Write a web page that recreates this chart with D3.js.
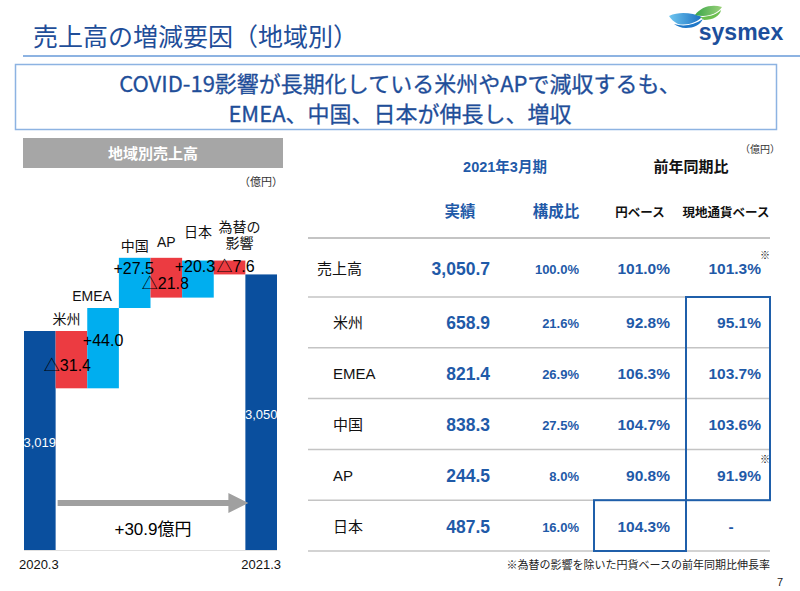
<!DOCTYPE html>
<html>
<head>
<meta charset="utf-8">
<script src="https://cdn.jsdelivr.net/npm/d3@7/dist/d3.min.js"></script>
<style>
  html, body { margin: 0; padding: 0; background: #fff; }
  svg { display: block; }
</style>
</head>
<body>
<svg id="chart" width="800" height="591"></svg>
<script>
// ---------------- DATA ----------------
const steps = ["2020.3", "米州", "EMEA", "中国", "AP", "日本", "為替の影響", "2021.3"];
const stepLabels = [["2020.3"], ["米州"], ["EMEA"], ["中国"], ["AP"], ["日本"], ["為替の", "影響"], ["2021.3"]];
const startTotal = 3019;
const endTotal = 3050;
const deltas = [-31.4, 44.0, 27.5, -21.8, 20.3, -7.6];
const deltaLabels = ["△31.4", "+44.0", "+27.5", "△21.8", "+20.3", "△7.6"];
const totalLabels = ["3,019", "3,050"];
const changeLabel = "+30.9億円";

const regions = ["売上高", "米州", "EMEA", "中国", "AP", "日本"];
const actual = ["3,050.7", "658.9", "821.4", "838.3", "244.5", "487.5"];
const share = ["100.0%", "21.6%", "26.9%", "27.5%", "8.0%", "16.0%"];
const yenBase = ["101.0%", "92.8%", "106.3%", "104.7%", "90.8%", "104.3%"];
const localBase = ["101.3%", "95.1%", "103.7%", "103.6%", "91.9%", "-"];
const localNote = [true, false, false, false, true, false];

// ---------------- LAYOUT / STYLE ----------------
const LATIN = "'Liberation Sans', Arial, 'Noto Sans CJK JP', sans-serif";
const CJK = "'Noto Sans CJK JP', 'Liberation Sans', sans-serif";
const C = {
  title: "#1f4e99", rule: "#8db3e2", dark: "#0a4f9e", light: "#00aeef", red: "#ec3b41",
  blueText: "#1f5aa8", grey: "#a6a6a6", line: "#c4c4c4"
};
// label nudges (px), index by delta step
const labelDx = [-4, 0, -1, -1, -3, 6];
const labelDy = [6, -8, -15, 6, -13, -1];
// category label nudges (px), index by step
const catDx = [0, -5, -11, 0, 0, 0, 10, 0];
const catDy = [0, 0, 0, 0, -4, -17, -6, 0];

const svg = d3.select("#chart");

// ---------- header ----------
svg.append("text").attr("x", 33).attr("y", 46)
  .attr("font-family", CJK).attr("font-size", 25).attr("fill", C.title)
  .text("売上高の増減要因（地域別）");
svg.append("rect").attr("x", 23).attr("y", 55).attr("width", 777).attr("height", 2).attr("fill", C.rule);

// logo
const defs = svg.append("defs");
const g1 = defs.append("linearGradient").attr("id", "lgBlue").attr("x1", 0).attr("x2", 1);
g1.append("stop").attr("offset", 0).attr("stop-color", "#6fc6f0");
g1.append("stop").attr("offset", 1).attr("stop-color", "#1a6fc0");
const g2 = defs.append("linearGradient").attr("id", "lgGreen").attr("x1", 0).attr("x2", 1);
g2.append("stop").attr("offset", 0).attr("stop-color", "#3aa64a");
g2.append("stop").attr("offset", 1).attr("stop-color", "#9cd27a");
const logo = svg.append("g");
logo.append("path").attr("d", "M669,16 C680,11 692,13 702,17 C697,22 688,26 678,24 C674,22 671,19 669,16Z").attr("fill", "url(#lgBlue)");
logo.append("path").attr("d", "M674,24 C684,27 694,25 703,19 C700,25 694,28 686,28 C681,28 677,26 674,24Z").attr("fill", "#1f78c8");
logo.append("path").attr("d", "M695,15 C701,7 711,4 722,7 C717,14 707,18 695,15Z").attr("fill", "url(#lgGreen)");
logo.append("path").attr("d", "M700,17 C708,17 716,15 721,10 C720,16 713,20 704,20Z").attr("fill", "#6cbf4f");
logo.append("text").attr("x", 741).attr("y", 40).attr("text-anchor", "middle")
  .attr("font-family", LATIN).attr("font-weight", "bold").attr("font-size", 23).attr("fill", "#1d4f9c")
  .text("sysmex");

// headline box
svg.append("rect").attr("x", 15.5).attr("y", 64.5).attr("width", 761).attr("height", 65)
  .attr("fill", "#fff").attr("stroke", C.rule).attr("stroke-width", 1.5);
const head = ["COVID-19影響が長期化している米州やAPで減収するも、", "EMEA、中国、日本が伸長し、増収"];
svg.selectAll("text.head").data(head).join("text").attr("class", "head")
  .attr("x", 400).attr("y", (d, i) => 92 + i * 30).attr("text-anchor", "middle")
  .attr("font-family", CJK).attr("font-size", 22).attr("fill", C.title)
  .attr("stroke", C.title).attr("stroke-width", 0.3)
  .text(d => d);

// ---------- waterfall ----------
svg.append("rect").attr("x", 23).attr("y", 138).attr("width", 260).attr("height", 30).attr("fill", C.grey);
svg.append("text").attr("x", 153).attr("y", 159).attr("text-anchor", "middle")
  .attr("font-family", CJK).attr("font-weight", "bold").attr("font-size", 15).attr("fill", "#fff")
  .text("地域別売上高");
svg.append("text").attr("x", 283).attr("y", 186).attr("text-anchor", "end")
  .attr("font-family", CJK).attr("font-size", 11).attr("fill", "#333").text("（億円）");

const x = d3.scaleBand().domain(steps).range([24, 277]).padding(0);
const y = d3.scaleLinear().domain([2899, 3019]).range([550, 331]);
const base = y.domain()[0];

// build bars
const bars = [];
bars.push({ step: steps[0], y0: base, y1: startTotal, color: C.dark, type: "total", label: totalLabels[0] });
let level = startTotal;
deltas.forEach((d, i) => {
  const next = level + d;
  bars.push({ step: steps[i + 1], y0: Math.min(level, next), y1: Math.max(level, next),
    color: d < 0 ? C.red : C.light, type: "delta", label: deltaLabels[i], idx: i });
  level = next;
});
bars.push({ step: steps[7], y0: base, y1: endTotal, color: C.dark, type: "total", label: totalLabels[1] });

svg.append("line").attr("x1", 24).attr("x2", 277).attr("y1", y(base) + 0.5).attr("y2", y(base) + 0.5)
  .attr("stroke", "#e0e0e0").attr("stroke-width", 1);

svg.selectAll("rect.bar").data(bars).join("rect").attr("class", "bar")
  .attr("x", d => x(d.step)).attr("width", x.bandwidth())
  .attr("y", d => y(d.y1)).attr("height", d => y(d.y0) - y(d.y1))
  .attr("fill", d => d.color);

// category labels above bars
stepLabels.forEach((lines, i) => {
  if (i === 0 || i === 7) return;
  const b = bars[i];
  const cx = x(steps[i]) + x.bandwidth() / 2 + catDx[i];
  const t = svg.append("text").attr("text-anchor", "middle")
    .attr("font-family", LATIN).attr("font-size", 14).attr("fill", "#111");
  lines.forEach((ln, k) => {
    t.append("tspan").attr("x", cx)
      .attr("y", y(b.y1) - 7 + catDy[i] - (lines.length - 1 - k) * 16).text(ln);
  });
});

// value labels
bars.filter(d => d.type === "delta").forEach(d => {
  const cx = x(d.step) + x.bandwidth() / 2 + labelDx[d.idx];
  const cy = (y(d.y0) + y(d.y1)) / 2 + labelDy[d.idx];
  svg.append("text").attr("x", cx).attr("y", cy).attr("dy", "0.35em").attr("text-anchor", "middle")
    .attr("font-family", LATIN).attr("font-size", 16).attr("fill", "#000").text(d.label);
});
bars.filter(d => d.type === "total").forEach(d => {
  svg.append("text").attr("x", x(d.step) + x.bandwidth() / 2).attr("y", (y(d.y0) + y(d.y1)) / 2 + 2)
    .attr("dy", "0.35em").attr("text-anchor", "middle")
    .attr("font-family", LATIN).attr("font-size", 13).attr("fill", "#fff").text(d.label);
});

// axis labels
const xAxis = d3.axisBottom(x).tickValues([steps[0], steps[7]]).tickSize(0).tickPadding(10);
const ax = svg.append("g").attr("transform", `translate(0,${y(base)})`).call(xAxis);
ax.select(".domain").remove();
ax.selectAll("text").attr("font-family", LATIN).attr("font-size", 13).attr("fill", "#111");
ax.selectAll(".tick").attr("transform", function () {
  const d = d3.select(this).datum();
  return `translate(${x(d) + x.bandwidth() / 2 + (d === steps[0] ? -1 : 0)},0)`;
});

// change arrow
const ax0 = x(steps[1]) + 2, ax1 = x(steps[7]) + 3;
const ay = 503;
svg.append("path")
  .attr("d", `M${ax0},${ay - 3} L${ax1 - 20},${ay - 3} L${ax1 - 20},${ay - 10} L${ax1},${ay} L${ax1 - 20},${ay + 10} L${ax1 - 20},${ay + 3} L${ax0},${ay + 3}Z`)
  .attr("fill", "#a0a0a0");
svg.append("text").attr("x", 153).attr("y", 535).attr("text-anchor", "middle")
  .attr("font-family", LATIN).attr("font-size", 17).attr("fill", "#000").text(changeLabel);

// ---------- table ----------
svg.append("text").attr("x", 780).attr("y", 153).attr("text-anchor", "end")
  .attr("font-family", CJK).attr("font-size", 10).attr("fill", "#333").text("（億円）");
svg.append("text").attr("x", 505).attr("y", 172).attr("text-anchor", "middle")
  .attr("font-family", LATIN).attr("font-weight", "bold").attr("font-size", 14.5).attr("fill", C.blueText)
  .text("2021年3月期");
svg.append("text").attr("x", 691).attr("y", 172).attr("text-anchor", "middle")
  .attr("font-family", CJK).attr("font-weight", "bold").attr("font-size", 15).attr("fill", "#111")
  .text("前年同期比");

const headers = [
  { t: "実績", x: 460, size: 15.5, color: C.blueText },
  { t: "構成比", x: 556, size: 15.5, color: C.blueText },
  { t: "円ベース", x: 640, size: 12.5, color: "#111" },
  { t: "現地通貨ベース", x: 726, size: 12.5, color: "#111" }
];
svg.selectAll("text.hdr").data(headers).join("text").attr("class", "hdr")
  .attr("x", d => d.x).attr("y", 217).attr("text-anchor", "middle")
  .attr("font-family", CJK).attr("font-weight", "bold").attr("font-size", d => d.size)
  .attr("fill", d => d.color).text(d => d.t);

const rowTop = (i) => i === 0 ? 238 : 297 + (i - 1) * 50.8;
const rowBot = (i) => i === 0 ? 297 : 297 + i * 50.8;

// lines
const lineYs = [238].concat(regions.map((r, i) => rowBot(i)));
svg.selectAll("line.row").data(lineYs).join("line").attr("class", "row")
  .attr("x1", 308).attr("x2", 770).attr("y1", d => d).attr("y2", d => d)
  .attr("stroke", C.line).attr("stroke-width", (d, i) => i === 0 ? 2 : 1.5);

regions.forEach((r, i) => {
  const cy = (rowTop(i) + rowBot(i)) / 2 + 6;
  const g = svg.append("g");
  g.append("text").attr("x", i === 0 ? 317 : 333).attr("y", cy)
    .attr("font-family", LATIN).attr("font-size", 15).attr("fill", "#111").text(r);
  g.append("text").attr("x", 490).attr("y", cy + 1).attr("text-anchor", "end")
    .attr("font-family", LATIN).attr("font-weight", "bold").attr("font-size", 17.5).attr("fill", C.blueText).text(actual[i]);
  g.append("text").attr("x", 579).attr("y", cy).attr("text-anchor", "end")
    .attr("font-family", LATIN).attr("font-weight", "bold").attr("font-size", 13).attr("fill", C.blueText).text(share[i]);
  g.append("text").attr("x", 670).attr("y", cy).attr("text-anchor", "end")
    .attr("font-family", LATIN).attr("font-weight", "bold").attr("font-size", 15.5).attr("fill", C.blueText).text(yenBase[i]);
  const isDash = localBase[i] === "-";
  g.append("text").attr("x", isDash ? 731 : 761).attr("y", cy).attr("text-anchor", isDash ? "middle" : "end")
    .attr("font-family", LATIN).attr("font-weight", "bold").attr("font-size", 15.5).attr("fill", C.blueText).text(localBase[i]);
  if (localNote[i]) {
    g.append("text").attr("x", 765).attr("y", rowTop(i) + (i === 0 ? 21 : 14)).attr("text-anchor", "middle")
      .attr("font-family", CJK).attr("font-size", 10).attr("fill", "#111").text("※");
  }
});

// highlight boxes
svg.append("rect").attr("x", 686).attr("y", rowTop(1)).attr("width", 84).attr("height", rowBot(4) - rowTop(1))
  .attr("fill", "none").attr("stroke", "#1f5faa").attr("stroke-width", 2);
svg.append("rect").attr("x", 594).attr("y", rowTop(5)).attr("width", 92).attr("height", rowBot(5) - rowTop(5))
  .attr("fill", "none").attr("stroke", "#1f5faa").attr("stroke-width", 2);

svg.append("text").attr("x", 770).attr("y", 569).attr("text-anchor", "end")
  .attr("font-family", CJK).attr("font-size", 11).attr("fill", "#222")
  .text("※為替の影響を除いた円貨ベースの前年同期比伸長率");
svg.append("text").attr("x", 783).attr("y", 586).attr("text-anchor", "end")
  .attr("font-family", LATIN).attr("font-size", 11).attr("fill", "#222").text("7");
</script>
</body>
</html>
